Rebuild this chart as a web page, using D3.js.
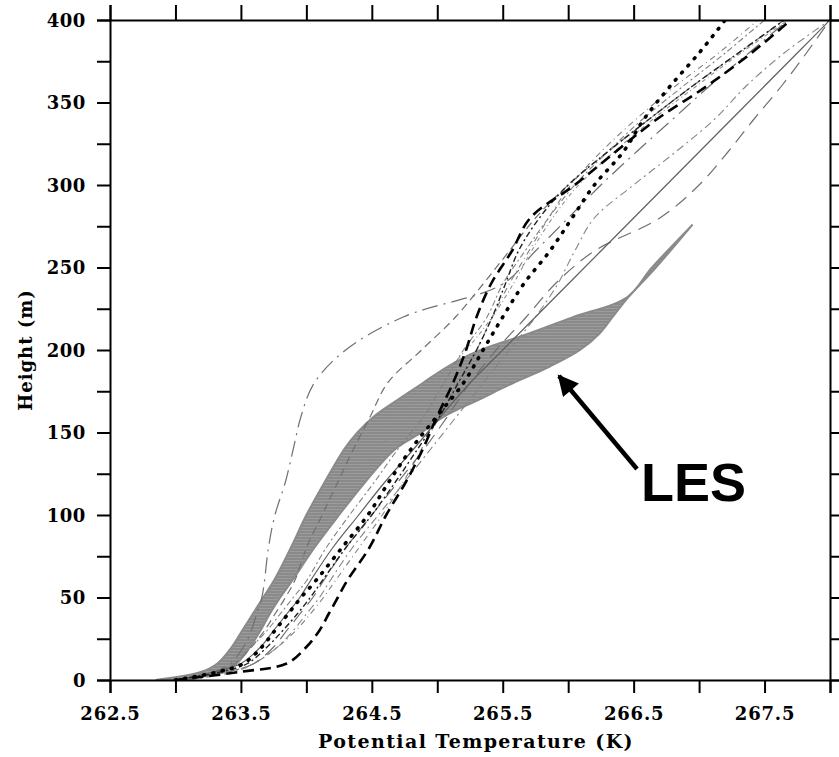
<!DOCTYPE html>
<html>
<head>
<meta charset="utf-8">
<script src="https://cdn.jsdelivr.net/npm/d3@7"></script>
<style>
  body { margin: 0; background: #fff; }
  .tick text, .title { font-family: "DejaVu Serif", serif; font-weight: bold; fill: #000; }
  .les { font-family: "Liberation Sans", Arial, sans-serif; font-weight: bold; }
</style>
</head>
<body>
<div id="container"></div>
<script>
// heights (m) shared by all model profiles
const heights = [0, 5, 10, 20, 30, 40, 50, 60, 80, 100, 120, 140, 160, 180, 200, 220, 240, 260, 280, 300, 320, 340, 360, 380, 400];

// potential temperature (K) of each model at those heights
const modelA = [263.0, 263.33, 263.52, 263.66, 263.76, 263.86, 263.96, 264.07, 264.27, 264.47, 264.63, 264.8, 265.0, 265.2, 265.35, 265.5, 265.66, 265.86, 266.03, 266.2, 266.42, 266.58, 266.78, 267.0, 267.2];
const modelB = [263.0, 263.5, 263.85, 264.0, 264.1, 264.17, 264.24, 264.31, 264.48, 264.61, 264.76, 264.89, 265.0, 265.12, 265.22, 265.3, 265.41, 265.57, 265.71, 266.05, 266.36, 266.68, 267.06, 267.4, 267.7];
const modelB2 = [263.0, 263.35, 263.55, 263.7, 263.82, 263.93, 264.03, 264.12, 264.3, 264.5, 264.68, 264.85, 265.02, 265.16, 265.3, 265.42, 265.52, 265.62, 265.78, 266.0, 266.3, 266.62, 266.95, 267.3, 267.65];
const modelC = [263.0, 263.3, 263.5, 263.65, 263.75, 263.85, 263.95, 264.03, 264.2, 264.4, 264.6, 264.82, 265.03, 265.25, 265.5, 265.75, 266.0, 266.25, 266.5, 266.75, 267.0, 267.25, 267.5, 267.75, 268.0];
const modelD = [263.05, 263.4, 263.6, 263.75, 263.85, 263.95, 264.05, 264.13, 264.3, 264.5, 264.7, 264.9, 265.08, 265.25, 265.45, 265.68, 265.9, 266.2, 266.7, 267.0, 267.22, 267.42, 267.63, 267.82, 268.0];
const modelE = [263.05, 263.3, 263.42, 263.52, 263.58, 263.62, 263.66, 263.68, 263.71, 263.76, 263.84, 263.9, 263.96, 264.06, 264.3, 264.74, 265.5, 265.75, 266.0, 266.25, 266.52, 266.8, 267.08, 267.38, 267.68];
const modelF = [263.05, 263.3, 263.45, 263.58, 263.68, 263.76, 263.84, 263.91, 264.0, 264.12, 264.24, 264.36, 264.49, 264.62, 264.88, 265.14, 265.35, 265.55, 265.75, 266.0, 266.3, 266.62, 266.95, 267.3, 267.65];
const modelG = [263.0, 263.3, 263.45, 263.58, 263.7, 263.8, 263.9, 264.0, 264.15, 264.33, 264.52, 264.7, 264.9, 265.05, 265.2, 265.38, 265.5, 265.67, 265.85, 266.05, 266.3, 266.57, 266.88, 267.2, 267.5];
const modelH = [263.1, 263.45, 263.6, 263.78, 263.9, 264.0, 264.1, 264.18, 264.35, 264.55, 264.75, 264.95, 265.15, 265.35, 265.55, 265.75, 265.92, 266.05, 266.2, 266.5, 266.82, 267.12, 267.36, 267.65, 268.0];
const modelM = [263.0, 263.3, 263.45, 263.55, 263.63, 263.7, 263.78, 263.85, 264.02, 264.2, 264.38, 264.55, 264.75, 264.98, 265.22, 265.42, 265.58, 265.72, 265.88, 266.08, 266.35, 266.65, 266.98, 267.32, 267.68];
const modelN = [263.05, 263.4, 263.6, 263.78, 263.92, 264.03, 264.13, 264.22, 264.4, 264.58, 264.74, 264.88, 265.02, 265.15, 265.3, 265.42, 265.55, 265.7, 265.85, 266.02, 266.25, 266.52, 266.82, 267.15, 267.45];

// LES envelope (min / max potential temperature at each height)
const lesHeights = [0, 5, 10, 20, 30, 40, 50, 60, 80, 100, 120, 140, 150, 160, 170, 180, 190, 200, 210, 220, 232, 250, 276];
const lesMin = [262.85, 263.2, 263.32, 263.43, 263.51, 263.59, 263.67, 263.75, 263.88, 264.0, 264.14, 264.29, 264.39, 264.52, 264.7, 264.89, 265.08, 265.33, 265.7, 266.04, 266.45, 266.64, 266.95];
const lesMax = [262.95, 263.38, 263.47, 263.57, 263.65, 263.72, 263.8, 263.89, 264.06, 264.25, 264.45, 264.68, 264.88, 265.06, 265.32, 265.58, 265.86, 266.09, 266.24, 266.34, 266.46, 266.67, 266.95];

const xTicks = d3.range(262.5, 268.01, 0.5);
const xLabels = [262.5, 263.5, 264.5, 265.5, 266.5, 267.5];
const yTicks = d3.range(0, 401, 25);

const w = 839;
const h = 757;
const padL = 110, padR = 830, padT = 20, padB = 680;

const svg = d3.select('#container').append('svg')
  .attr('width', w).attr('height', h);

const xScale = d3.scaleLinear().domain([262.5, 268]).range([padL, padR]);
const yScale = d3.scaleLinear().domain([0, 400]).range([padB, padT]);

const defs = svg.append('defs');
defs.append('clipPath').attr('id', 'plot')
  .append('rect').attr('x', padL).attr('y', padT)
  .attr('width', padR - padL).attr('height', padB - padT);

const pat = defs.append('pattern').attr('id', 'hatch')
  .attr('patternUnits', 'userSpaceOnUse').attr('width', 8).attr('height', 3);
pat.append('rect').attr('width', 8).attr('height', 3).attr('fill', '#8a8a8a');
pat.append('rect').attr('y', 2).attr('width', 8).attr('height', 1).attr('fill', '#9c9c9c');

const g = svg.append('g').attr('clip-path', 'url(#plot)');

const smooth = d3.curveCatmullRom.alpha(0.5);

// LES band
const band = lesHeights.map((z, i) => ({ z, lo: lesMin[i], hi: lesMax[i] }));
g.append('path')
  .datum(band)
  .attr('d', d3.area()
    .y(d => yScale(d.z))
    .x0(d => xScale(d.lo))
    .x1(d => xScale(d.hi))
    .curve(smooth))
  .attr('fill', 'url(#hatch)')
  .attr('stroke', '#8a8a8a')
  .attr('stroke-width', 2);

const models = [
  [modelE, '#707070', 1.2, '16 6 2 6'],
  [modelF, '#707070', 1.2, '8 5'],
  [modelM, '#909090', 1.1, '4 3 1 3'],
  [modelG, '#808080', 1.1, '6 3 2 3'],
  [modelN, '#808080', 1.1, '6 4 1 4'],
  [modelH, '#858585', 1.1, '8 4 2 4'],
  [modelD, '#707070', 1.2, '14 8'],
  [modelC, '#606060', 1.2, null],
  [modelB2, '#222', 1.4, '6 3 2 3'],
  [modelB, '#000', 2.6, '11 6'],
  [modelA, '#000', 3.6, '1 8.5']
];

const line = d3.line()
  .x(d => xScale(d[1]))
  .y(d => yScale(d[0]))
  .curve(smooth);

models.forEach(m => {
  g.append('path')
    .datum(heights.map((z, i) => [z, m[0][i]]))
    .attr('d', line)
    .attr('fill', 'none')
    .attr('stroke', m[1])
    .attr('stroke-width', m[2])
    .attr('stroke-linecap', m[3] === '1 8.5' ? 'round' : 'butt')
    .attr('stroke-dasharray', m[3]);
});

// axes
svg.append('g')
  .attr('transform', `translate(0,${padB})`)
  .call(d3.axisBottom(xScale).tickValues(xTicks).tickSize(13)
    .tickFormat(d => xLabels.some(v => Math.abs(v - d) < 1e-6) ? d.toFixed(1) : ''))
  .call(a => a.selectAll('text').attr('y', 40).attr('dy', 0)
    .style('font-size', '18px').style('letter-spacing', '0.8px'));

svg.append('g')
  .attr('transform', `translate(0,${padT})`)
  .call(d3.axisTop(xScale).tickValues(xTicks).tickSize(15).tickFormat(''));

svg.append('g')
  .attr('transform', `translate(${padL},0)`)
  .call(d3.axisLeft(yScale).tickValues(yTicks).tickSize(13)
    .tickFormat(d => d % 50 === 0 ? d : ''))
  .call(a => a.selectAll('text').attr('x', -24).attr('dy', '0.36em')
    .style('font-size', '18px').style('letter-spacing', '0.6px'));

svg.append('g')
  .attr('transform', `translate(${padR},0)`)
  .call(d3.axisRight(yScale).tickValues(yTicks).tickSize(12).tickFormat(''));

svg.selectAll('.domain').attr('stroke', '#000').attr('stroke-width', 2);
svg.selectAll('.tick line').attr('stroke', '#000').attr('stroke-width', 2);

// titles
svg.append('text').attr('class', 'title')
  .attr('x', 476).attr('y', 748)
  .attr('text-anchor', 'middle')
  .style('font-size', '19px').style('letter-spacing', '1.4px')
  .text('Potential Temperature (K)');

svg.append('text').attr('class', 'title')
  .attr('transform', `translate(32,${(padT + padB) / 2}) rotate(-90)`)
  .attr('text-anchor', 'middle')
  .style('font-size', '18px').style('letter-spacing', '1px')
  .text('Height (m)');

// LES annotation
defs.append('marker').attr('id', 'head')
  .attr('viewBox', '0 0 10 10').attr('refX', 9).attr('refY', 5)
  .attr('markerWidth', 4.8).attr('markerHeight', 4.6)
  .attr('markerUnits', 'strokeWidth')
  .attr('orient', 'auto')
  .append('path').attr('d', 'M0,0 L10,5 L0,10 Z').attr('fill', '#000');

svg.append('line')
  .attr('x1', 637).attr('y1', 469)
  .attr('x2', 559).attr('y2', 376)
  .attr('stroke', '#000').attr('stroke-width', 4.5)
  .attr('marker-end', 'url(#head)');

svg.append('text').attr('class', 'les')
  .attr('x', 641).attr('y', 501)
  .style('font-size', '54px')
  .text('LES');
</script>
</body>
</html>
